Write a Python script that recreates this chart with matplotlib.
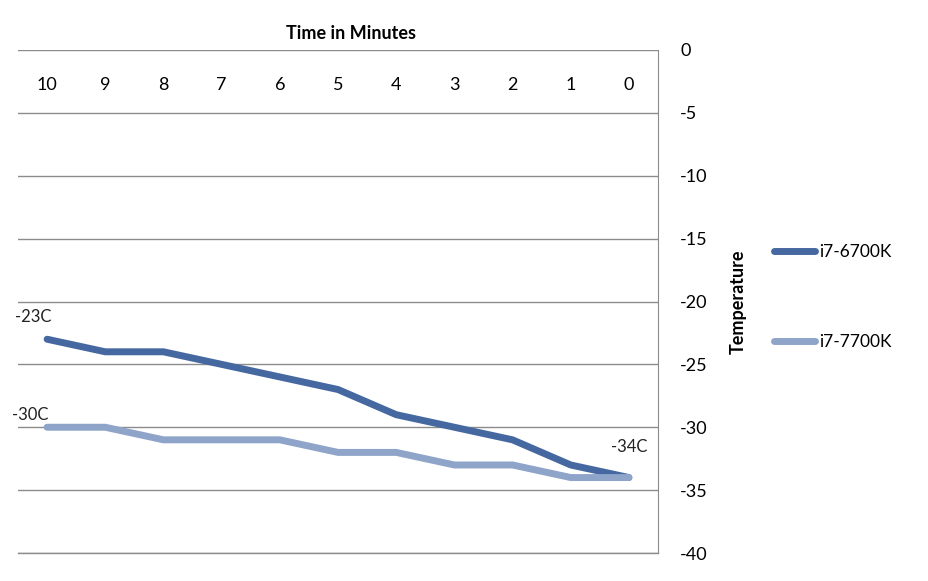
import numpy as np
import matplotlib
matplotlib.use("Agg")
import matplotlib.pyplot as plt

plt.rcParams['font.family'] = ['Lato', 'DejaVu Sans']
plt.rcParams['axes.unicode_minus'] = False

# данные
minutes = ['10', '9', '8', '7', '6', '5', '4', '3', '2', '1', '0']
i7_6700k = [-23, -24, -24, -25, -26, -27, -29, -30, -31, -33, -34]
i7_7700k = [-30, -30, -31, -31, -31, -32, -32, -33, -33, -34, -34]
y_ticks = [0, -5, -10, -15, -20, -25, -30, -35, -40]

col_dark = '#4568a0'
col_light = '#8ea4c9'
grid_col = '#8c8c8c'

fig = plt.figure(figsize=(9.29, 5.81), dpi=100)
ax = fig.add_axes([18/929, 1 - 553/581, (658 - 18)/929, (553 - 50)/581])

x = np.arange(len(minutes))
ax.plot(x, i7_6700k, color=col_dark, lw=5, solid_capstyle='round',
        solid_joinstyle='round', label='i7-6700K', zorder=3)
ax.plot(x, i7_7700k, color=col_light, lw=5, solid_capstyle='round',
        solid_joinstyle='round', label='i7-7700K', zorder=3)

# подписи точек
ax.annotate('-23C', (x[0], i7_6700k[0]), xytext=(-10, 16), textcoords='offset points',
            ha='center', va='center', fontsize=12, color='#222222')
ax.annotate('-30C', (x[0], i7_7700k[0]), xytext=(-12, 9), textcoords='offset points',
            ha='center', va='center', fontsize=12, color='#222222')
ax.annotate('-34C', (x[-1], i7_6700k[-1]), xytext=(0, 22), textcoords='offset points',
            ha='center', va='center', fontsize=12, color='#222222')

ax.set_xlim(-0.5, len(minutes) - 0.5)
ax.set_ylim(-40, 0)
ax.set_yticks(y_ticks)
ax.yaxis.tick_right()
ax.tick_params(axis='y', length=0, pad=16, labelsize=13)
ax.yaxis.set_label_position('right')
ax.set_ylabel('Temperature', fontsize=13, fontweight='bold', labelpad=16)

ax.set_xticks(x)
ax.set_xticklabels(minutes)
ax.xaxis.tick_top()
ax.tick_params(axis='x', length=0, pad=-31, labelsize=13)
ax.set_title('Time in Minutes', fontsize=13, fontweight='bold', pad=8, x=0.52)

ax.grid(axis='y', color=grid_col, lw=1)
ax.axhline(-40, color=grid_col, lw=1, clip_on=False)
ax.set_axisbelow(True)
for s in ['left', 'top', 'bottom']:
    ax.spines[s].set_visible(False)
ax.spines['right'].set_color(grid_col)

fig.legend(loc='upper left', bbox_to_anchor=(758/929, 1 - 228/581), frameon=False,
           fontsize=12.5, handlelength=2.4, labelspacing=4.3, handletextpad=0.2)

plt.savefig('out.png', dpi=100)
